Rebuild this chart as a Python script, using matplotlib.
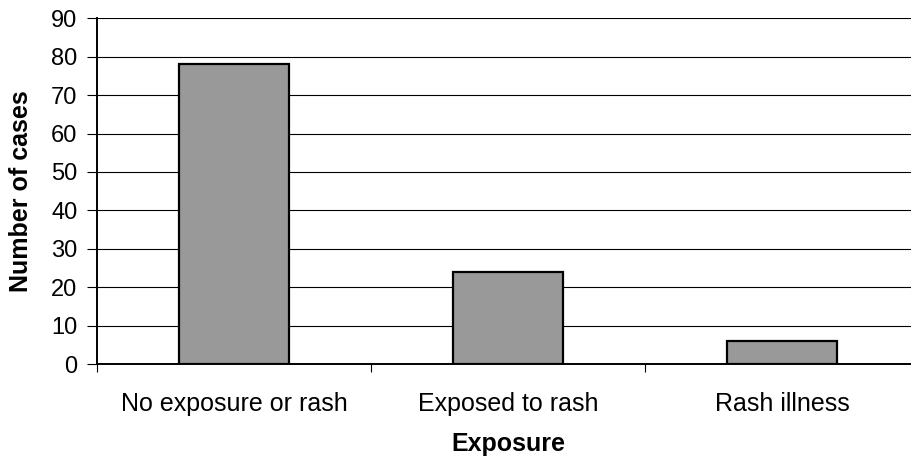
import matplotlib
matplotlib.use("Agg")
import matplotlib.pyplot as plt
import numpy as np

categories = ["No exposure or rash", "Exposed to rash", "Rash illness"]
cases = [78, 24, 6]
yticks = [0, 10, 20, 30, 40, 50, 60, 70, 80, 90]

plt.rcParams['font.family'] = ['Liberation Sans', 'DejaVu Sans']

W, H = 912, 461
fig = plt.figure(figsize=(W / 100, H / 100), dpi=100)
left, right, top, bottom = 97, 919, 18.3, 364
ax = fig.add_axes([left / W, (H - bottom) / H, (right - left) / W, (bottom - top) / H])

x = np.arange(len(categories))
ax.bar(x, cases, width=0.4, color='#999999', edgecolor='black', linewidth=1.6, zorder=3)

ax.set_xlim(-0.5, len(categories) - 0.5)
ax.set_ylim(0, 90)
ax.set_yticks(yticks)
ax.set_yticklabels([str(v) for v in yticks], fontsize=17)
ax.yaxis.grid(True, color='black', linewidth=0.8, zorder=0)
ax.set_axisbelow(True)

ax.set_xticks(np.arange(len(categories) + 1) - 0.5)
ax.set_xticklabels([])
ax.set_xticks(x, minor=True)
ax.set_xticklabels(categories, minor=True, fontsize=18)
ax.tick_params(axis='x', which='major', direction='out', length=6, width=0.8, color='black')
ax.tick_params(axis='x', which='minor', length=0, pad=20)
ax.tick_params(axis='y', direction='out', length=7.2, width=0.8, pad=7)

for s in ['top', 'right']:
    ax.spines[s].set_visible(False)
for s in ['left', 'bottom']:
    ax.spines[s].set_linewidth(1.4)
    ax.spines[s].set_color('black')

ax.set_xlabel("Exposure", fontsize=18, fontweight='bold')
ax.xaxis.set_label_coords(0.5, (bottom - 432) / (bottom - top))
ax.set_ylabel("Number of cases", fontsize=18, fontweight='bold')
ax.yaxis.set_label_coords((33 - left) / (right - left), 0.5)

fig.savefig("out.png", dpi=100, facecolor='white')
